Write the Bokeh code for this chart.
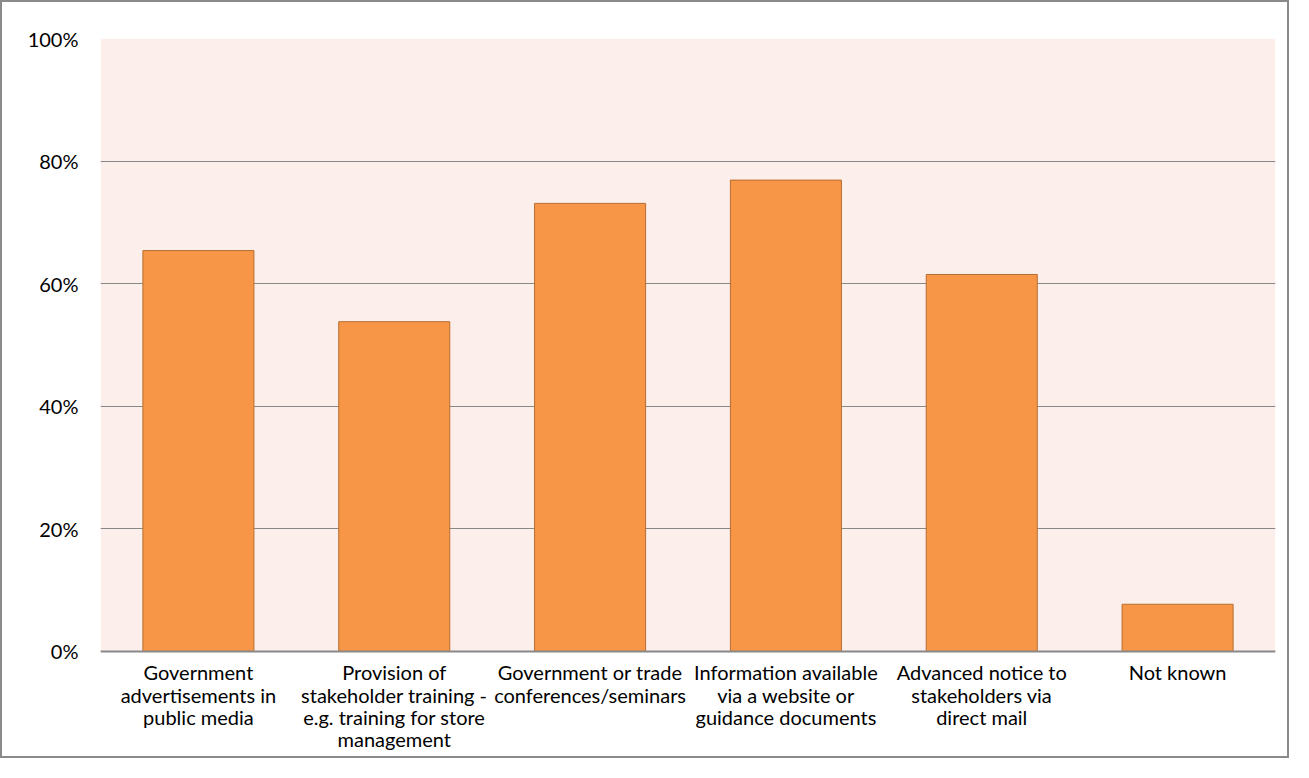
from bokeh.plotting import figure
from bokeh.models import ColumnDataSource, FactorRange, NumeralTickFormatter, FixedTicker, BoxAnnotation, Span
from bokeh.core.properties import value
from bokeh.embed import file_html
from bokeh.resources import INLINE

categories = [
    "Government\nadvertisements in\npublic media",
    "Provision of\nstakeholder training -\ne.g. training for store\nmanagement",
    "Government or trade\nconferences/seminars",
    "Information available\nvia a website or\nguidance documents",
    "Advanced notice to\nstakeholders via\ndirect mail",
    "Not known",
]
values = [0.654, 0.538, 0.731, 0.769, 0.615, 0.077]
y_ticks = [0, 0.2, 0.4, 0.6, 0.8, 1.0]

FONT = "Lato"

src = ColumnDataSource(dict(cat=categories, val=values, base=[0] * len(categories)))

p = figure(
    x_range=FactorRange(*categories, range_padding=0),
    y_range=(-0.1746, 1),
    width=1289, height=758,
    output_backend="svg", toolbar_location=None,
    min_border_left=98, min_border_right=16, min_border_top=36, min_border_bottom=2,
)
p.styles = {"border": "2px solid #8a8a8a"}
p.background_fill_color = "white"
p.border_fill_color = "white"
p.outline_line_color = None

p.add_layout(BoxAnnotation(bottom=0, top=1, fill_color="#FCEEEA", fill_alpha=1,
                           line_color=None, level="image"))

p.vbar(x="cat", top="val", width=0.567, source=src,
       fill_color="#F79646", line_color="#B66D31", line_width=1)

p.add_layout(Span(location=0, dimension="width", line_color="#888888", line_width=2))

p.text(x="cat", y="base", text="cat", source=src, y_offset=9,
       text_align="center", text_baseline="top",
       text_font=value(FONT), text_font_size="20px", text_color="#000000",
       text_line_height=0.92)

p.xaxis.visible = False

p.yaxis.ticker = FixedTicker(ticks=y_ticks)
p.yaxis.formatter = NumeralTickFormatter(format="0%")
p.yaxis.axis_line_color = None
p.yaxis.major_tick_line_color = None
p.yaxis.minor_tick_line_color = None
p.yaxis.major_label_text_font = FONT
p.yaxis.major_label_text_font_size = "20px"
p.yaxis.major_label_text_color = "#000000"
p.yaxis.major_label_standoff = 16

p.xgrid.grid_line_color = None
p.ygrid.grid_line_color = "#888888"
p.ygrid.grid_line_width = 1

open("out.html", "w").write(file_html(p, INLINE))
